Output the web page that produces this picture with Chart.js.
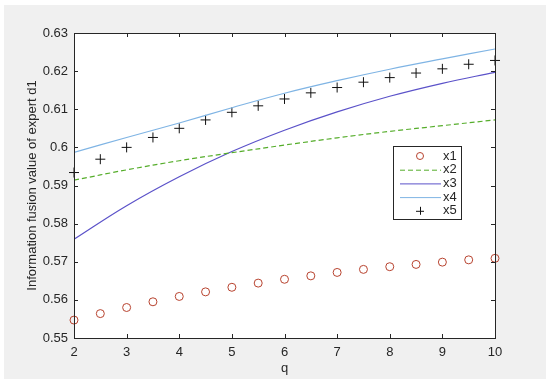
<!DOCTYPE html>
<html>
<head>
<meta charset="utf-8">
<script src="https://cdn.jsdelivr.net/npm/chart.js@4/dist/chart.umd.min.js"></script>
<style>
  html, body { margin: 0; padding: 0; background: #fff; }
  #wrap { width: 550px; height: 385px; }
</style>
</head>
<body>
<div id="wrap"><canvas id="chart" width="550" height="385"></canvas></div>
<script>
// valores
const qMarkers = [2, 2.5, 3, 3.5, 4, 4.5, 5, 5.5, 6, 6.5, 7, 7.5, 8, 8.5, 9, 9.5, 10];
const qLine = [2, 3, 4, 5, 6, 7, 8, 9, 10];
const x1 = [0.5547, 0.5564, 0.5580, 0.5595, 0.5609, 0.5621, 0.5633, 0.5644, 0.5654, 0.5663, 0.5672, 0.5680, 0.5687, 0.5693, 0.5699, 0.5705, 0.5709];
const x2 = [0.5914, 0.5941, 0.5965, 0.5986, 0.6006, 0.6025, 0.6042, 0.6057, 0.6072];
const x3 = [0.5759, 0.5847, 0.5923, 0.5989, 0.6045, 0.6093, 0.6134, 0.6168, 0.6197];
const x4 = [0.5987, 0.6026, 0.6064, 0.6104, 0.6142, 0.6175, 0.6205, 0.6232, 0.6258];
const x5 = [0.5934, 0.5969, 0.6000, 0.6026, 0.6050, 0.6072, 0.6092, 0.6109, 0.6127, 0.6143, 0.6157, 0.6171, 0.6183, 0.6195, 0.6206, 0.6218, 0.6228];
const seriesNames = ['x1', 'x2', 'x3', 'x4', 'x5'];
const xTicks = [2, 3, 4, 5, 6, 7, 8, 9, 10];
const yTicks = [0.55, 0.56, 0.57, 0.58, 0.59, 0.6, 0.61, 0.62, 0.63];

const FONT = 'Arial, "Liberation Sans", sans-serif';
const AXIS = '#262626';
const toPts = (xs, ys) => xs.map((x, i) => ({ x, y: ys[i] }));

// fundo cinza estilo MATLAB, área branca, caixa e ticks internos
const framePlugin = {
  id: 'frame',
  beforeDraw(chart) {
    const { ctx, chartArea: a } = chart;
    ctx.save();
    ctx.fillStyle = '#f0f0f0';
    ctx.fillRect(4, 5, 542, 374);
    ctx.fillStyle = '#fff';
    ctx.fillRect(a.left, a.top, a.right - a.left, a.bottom - a.top);
    ctx.restore();
  },
  afterDraw(chart) {
    const { ctx, chartArea: a, scales } = chart;
    ctx.save();
    ctx.strokeStyle = AXIS;
    ctx.lineWidth = 1;
    ctx.strokeRect(Math.round(a.left) + 0.5, Math.round(a.top) + 0.5, Math.round(a.right - a.left), Math.round(a.bottom - a.top));
    ctx.beginPath();
    xTicks.forEach(v => {
      const px = Math.round(scales.x.getPixelForValue(v)) + 0.5;
      ctx.moveTo(px, a.bottom); ctx.lineTo(px, a.bottom - 4);
      ctx.moveTo(px, a.top); ctx.lineTo(px, a.top + 4);
    });
    yTicks.forEach(v => {
      const py = Math.round(scales.y.getPixelForValue(v)) + 0.5;
      ctx.moveTo(a.left, py); ctx.lineTo(a.left + 4, py);
      ctx.moveTo(a.right, py); ctx.lineTo(a.right - 4, py);
    });
    ctx.stroke();
    ctx.restore();
  }
};

// legenda em caixa, como no MATLAB
const legendPlugin = {
  id: 'boxLegend',
  afterDraw(chart) {
    const { ctx } = chart;
    const box = { x: 393, y: 146, w: 68, h: 73 };
    ctx.save();
    ctx.fillStyle = '#fff';
    ctx.fillRect(box.x, box.y, box.w, box.h);
    ctx.strokeStyle = AXIS;
    ctx.lineWidth = 1;
    ctx.strokeRect(box.x + 0.5, box.y + 0.5, box.w, box.h);
    ctx.font = '13px ' + FONT;
    ctx.textBaseline = 'middle';
    chart.data.datasets.forEach((ds, i) => {
      const y = box.y + 10 + i * 13.7;
      const x0 = 400, x1p = 441, xm = 420;
      ctx.strokeStyle = ds.borderColor;
      ctx.lineWidth = 1;
      if (ds.showLine) {
        ctx.setLineDash(ds.borderDash || []);
        ctx.beginPath();
        ctx.moveTo(x0, y + 0.5); ctx.lineTo(x1p, y + 0.5);
        ctx.stroke();
        ctx.setLineDash([]);
      } else if (ds.pointStyle === 'circle') {
        ctx.beginPath();
        ctx.arc(xm, y, 3.5, 0, Math.PI * 2);
        ctx.stroke();
      } else {
        ctx.beginPath();
        ctx.moveTo(xm - 4, y + 0.5); ctx.lineTo(xm + 4, y + 0.5);
        ctx.moveTo(xm + 0.5, y - 4); ctx.lineTo(xm + 0.5, y + 4);
        ctx.stroke();
      }
      ctx.fillStyle = AXIS;
      ctx.fillText(seriesNames[i], 443, y);
    });
    ctx.restore();
  }
};

const ctx = document.getElementById('chart').getContext('2d');
new Chart(ctx, {
  type: 'scatter',
  data: {
    datasets: [
      { label: 'x1', data: toPts(qMarkers, x1), showLine: false, pointStyle: 'circle', pointRadius: 4,
        borderColor: '#b8432f', backgroundColor: 'rgba(0,0,0,0)', pointBorderWidth: 1, clip: false },
      { label: 'x2', data: toPts(qLine, x2), showLine: true, pointRadius: 0, borderColor: '#55ad2a',
        borderWidth: 1.2, borderDash: [5, 3], tension: 0.4 },
      { label: 'x3', data: toPts(qLine, x3), showLine: true, pointRadius: 0, borderColor: '#5b52c9',
        borderWidth: 1.2, tension: 0.4 },
      { label: 'x4', data: toPts(qLine, x4), showLine: true, pointRadius: 0, borderColor: '#7fb4e4',
        borderWidth: 1.2, tension: 0.4 },
      { label: 'x5', data: toPts(qMarkers, x5), showLine: false, pointStyle: 'cross', pointRadius: 5,
        borderColor: '#111', pointBorderWidth: 1, clip: false }
    ]
  },
  options: {
    responsive: false,
    animation: false,
    layout: { padding: { top: 33, right: 55, left: 0, bottom: 0 } },
    plugins: { legend: { display: false }, tooltip: { enabled: false } },
    scales: {
      x: {
        type: 'linear', min: 2, max: 10,
        grid: { display: false, drawTicks: false },
        border: { display: false },
        afterBuildTicks: s => { s.ticks = xTicks.map(v => ({ value: v })); },
        afterFit: s => { s.height = 47; },
        ticks: { color: AXIS, font: { family: FONT, size: 13 }, padding: 7, maxRotation: 0 },
        title: { display: true, text: 'q', color: AXIS, font: { family: FONT, size: 13 }, padding: { top: 0, bottom: 9 } }
      },
      y: {
        type: 'linear', min: 0.55, max: 0.63,
        grid: { display: false, drawTicks: false },
        border: { display: false },
        afterBuildTicks: s => { s.ticks = yTicks.map(v => ({ value: v })); },
        afterFit: s => { s.width = 74; },
        ticks: { color: AXIS, font: { family: FONT, size: 13 }, padding: 6, callback: v => String(+v.toFixed(2)) },
        title: { display: true, text: 'Information fusion value of expert d1', color: AXIS,
          font: { family: FONT, size: 13 }, padding: { top: 25, bottom: 0 } }
      }
    }
  },
  plugins: [framePlugin, legendPlugin]
});
</script>
</body>
</html>
